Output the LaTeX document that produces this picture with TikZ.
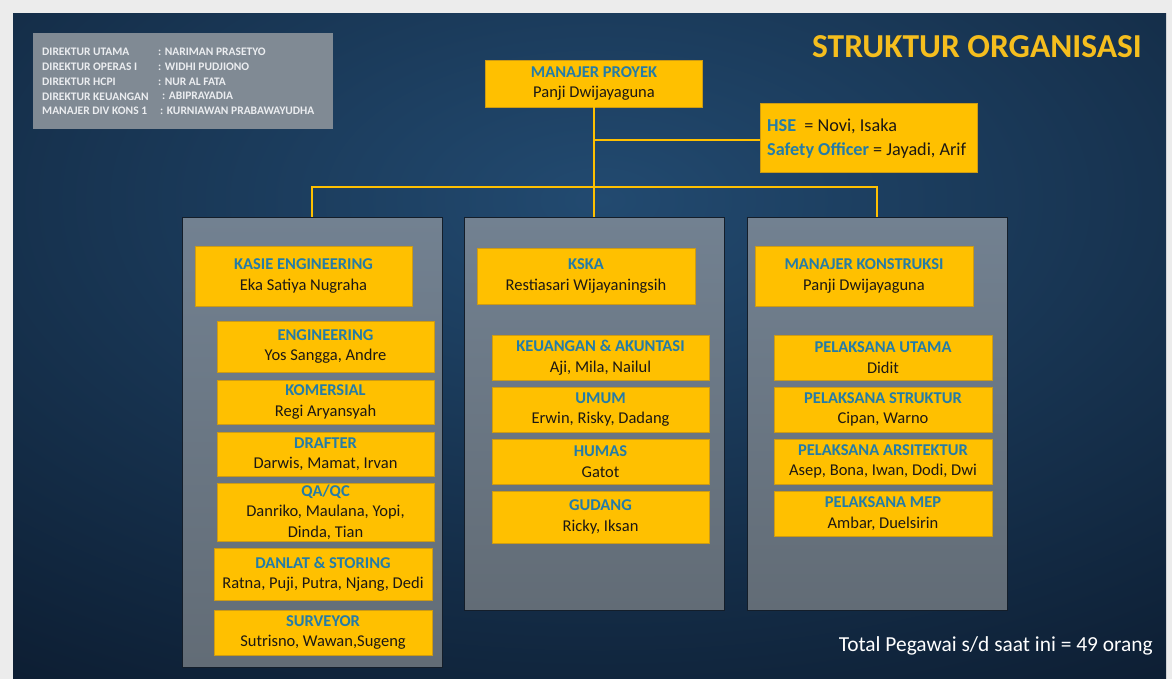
\documentclass[tikz,border=0pt]{standalone}
\usepackage{fontspec}
\setmainfont{Carlito}
\definecolor{ygold}{RGB}{255,192,0}
\definecolor{yedge}{RGB}{205,155,20}
\definecolor{tealc}{RGB}{36,124,168}
\definecolor{namec}{RGB}{28,24,20}
\definecolor{bgin}{RGB}{34,74,112}
\definecolor{bgout}{RGB}{12,28,48}
\definecolor{framec}{RGB}{236,236,236}
\definecolor{paneltop}{RGB}{114,129,145}
\definecolor{panelbot}{RGB}{98,108,118}
\definecolor{paneledge}{RGB}{20,30,42}
\definecolor{infofill}{RGB}{128,138,148}
\definecolor{infotext}{RGB}{235,237,240}
\definecolor{titlegold}{RGB}{245,190,30}
\newcommand\boxttl[1]{\textcolor{tealc}{\bfseries #1}}
\tikzset{
  ybox/.style={draw=yedge, line width=0.5pt, fill=ygold, inner sep=0pt, align=center, text=namec, font=\fontsize{16.5}{20.5}\selectfont},
  panel/.style={draw=paneledge, line width=0.8pt, top color=paneltop, bottom color=panelbot, inner sep=0pt},
  conn/.style={draw=ygold, line width=2pt},
  infot/.style={anchor=west, text=infotext, font=\fontsize{11.5}{13}\selectfont\bfseries, inner sep=0pt},
}
\begin{document}
\begin{tikzpicture}[x=1pt,y=-1pt]
\useasboundingbox (0,0) rectangle (1172,679);
\fill[framec] (0,0) rectangle (1172,679);
\begin{scope}
  \clip (13,14) rectangle (1166,679);
  \fill[bgout] (13,14) rectangle (1166,679);
  \shade[inner color=bgin, outer color=bgout] (-500,-400) rectangle (1700,800);
\end{scope}

% info box
\node[draw=none, fill=infofill, minimum width=300pt, minimum height=96pt, inner sep=0pt] (info) at (183,81) {};
\node[infot] (i1) at (42,52) {DIREKTUR UTAMA};
\node[infot] (i2) at (42,66.8) {DIREKTUR OPERAS I};
\node[infot] (i3) at (42,81.5) {DIREKTUR HCPI};
\node[infot] (i4) at (42,96.3) {DIREKTUR KEUANGAN};
\node[infot] (i5) at (42,111) {MANAJER DIV KONS 1};
\node[infot] (c1) at (158,52) {: NARIMAN PRASETYO};
\node[infot] (c2) at (158,66.8) {: WIDHI PUDJIONO};
\node[infot] (c3) at (158,81.5) {: NUR AL FATA};
\node[infot] (c4) at (162,96.3) {: ABIPRAYADIA};
\node[infot] (c5) at (160,111) {: KURNIAWAN PRABAWAYUDHA};

% title
\node[text=titlegold, font=\fontsize{33.5}{38}\selectfont\bfseries, inner sep=0pt] (title) at (977,47) {STRUKTUR ORGANISASI};

% panels
\node[panel, minimum width=260pt, minimum height=450pt] (pl) at (312,442) {};
\node[panel, minimum width=260pt, minimum height=393pt] (pm) at (594,413.5) {};
\node[panel, minimum width=260pt, minimum height=393pt] (pr) at (877,413.5) {};

% top boxes
\node[ybox, minimum width=217pt, minimum height=47pt] (mp) at (594,83.5) {\boxttl{MANAJER PROYEK}\\Panji Dwijayaguna};
\node[ybox, minimum width=217pt, minimum height=69pt] (hse) at (868.5,137.5) {};
\node[anchor=west, align=left, inner sep=0pt, text=namec, font=\fontsize{18.2}{24}\selectfont] (hsetxt) at (767,139) {\boxttl{HSE}\ \ = Novi, Isaka\\\boxttl{Safety Officer} = Jayadi, Arif};

% connectors
\coordinate (bus) at (594,187);
\coordinate (hj) at (594,140);
\draw[conn] (mp.south) -- (pm.north);
\draw[conn] (pl.north) |- (bus) -| (pr.north);
\draw[conn] (hj) -- (hse.west |- hj);

% left column
\node[ybox, minimum width=217pt, minimum height=60pt] (kasie) at (303.5,276) {\boxttl{KASIE ENGINEERING}\\Eka Satiya Nugraha};
\node[ybox, minimum width=217pt, minimum height=51pt] (eng) at (325.5,346.5) {\boxttl{ENGINEERING}\\Yos Sangga, Andre};
\node[ybox, minimum width=217pt, minimum height=44pt] (kom) at (325.5,402) {\boxttl{KOMERSIAL}\\Regi Aryansyah};
\node[ybox, minimum width=217pt, minimum height=44pt] (draft) at (325.5,454) {\boxttl{DRAFTER}\\Darwis, Mamat, Irvan};
\node[ybox, minimum width=217pt, minimum height=58pt] (qaqc) at (325.5,512) {\boxttl{QA/QC}\\Danriko, Maulana, Yopi,\\Dinda, Tian};
\node[ybox, minimum width=218pt, minimum height=52pt] (danlat) at (323,574) {\boxttl{DANLAT \& STORING}\\Ratna, Puji, Putra, Njang, Dedi};
\node[ybox, minimum width=218pt, minimum height=45pt] (surv) at (323,632.5) {\boxttl{SURVEYOR}\\Sutrisno, Wawan,Sugeng};

% middle column
\node[ybox, minimum width=218pt, minimum height=56pt] (kska) at (586,276) {\boxttl{KSKA}\\Restiasari Wijayaningsih};
\node[ybox, minimum width=217pt, minimum height=45pt] (keu) at (600.5,357.5) {\boxttl{KEUANGAN \& AKUNTASI}\\Aji, Mila, Nailul};
\node[ybox, minimum width=217pt, minimum height=45pt] (umum) at (600.5,409.5) {\boxttl{UMUM}\\Erwin, Risky, Dadang};
\node[ybox, minimum width=217pt, minimum height=45pt] (humas) at (600.5,461.5) {\boxttl{HUMAS}\\Gatot};
\node[ybox, minimum width=217pt, minimum height=52pt] (gudang) at (600.5,517) {\boxttl{GUDANG}\\Ricky, Iksan};

% right column
\node[ybox, minimum width=218pt, minimum height=60pt] (mk) at (864,276) {\boxttl{MANAJER KONSTRUKSI}\\Panji Dwijayaguna};
\node[ybox, minimum width=218pt, minimum height=45pt] (pu) at (883,357.5) {\boxttl{PELAKSANA UTAMA}\\Didit};
\node[ybox, minimum width=218pt, minimum height=45pt] (ps) at (883,409.5) {\boxttl{PELAKSANA STRUKTUR}\\Cipan, Warno};
\node[ybox, minimum width=218pt, minimum height=45pt] (pa) at (883,461.5) {\boxttl{PELAKSANA ARSITEKTUR}\\Asep, Bona, Iwan, Dodi, Dwi};
\node[ybox, minimum width=218pt, minimum height=45pt] (mep) at (883,513.5) {\boxttl{PELAKSANA MEP}\\Ambar, Duelsirin};

% total
\node[text=white, font=\fontsize{21.4}{25}\selectfont, inner sep=0pt, anchor=east] (total) at (1153,646) {Total Pegawai s/d saat ini = 49 orang};
\end{tikzpicture}
\end{document}
